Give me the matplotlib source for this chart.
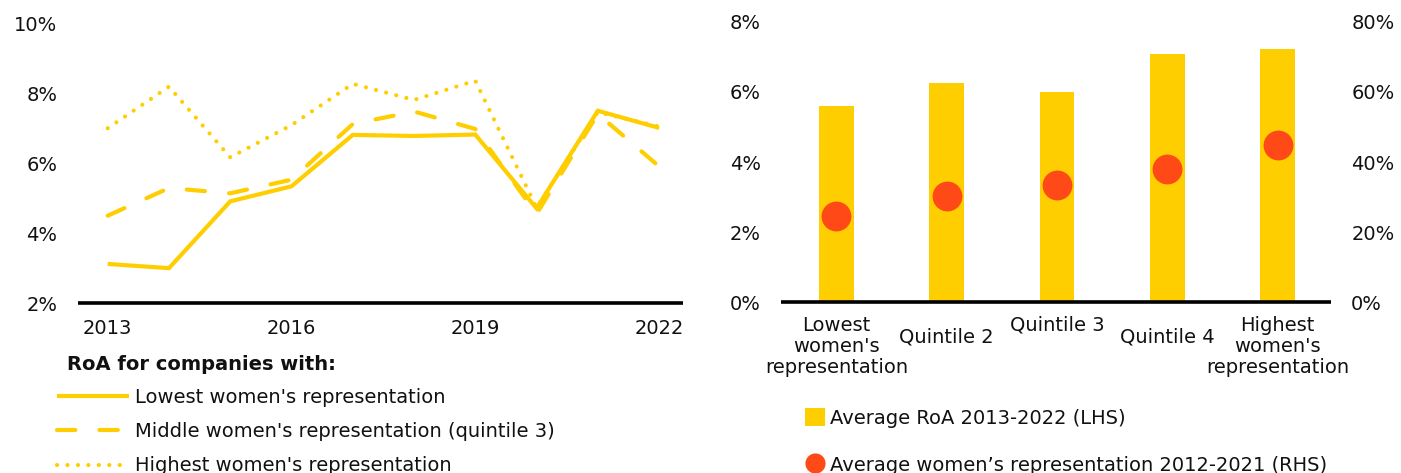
import matplotlib
matplotlib.use("Agg")
import matplotlib.pyplot as plt
from matplotlib.lines import Line2D
from matplotlib.patches import Patch
from matplotlib.ticker import FuncFormatter

# Left panel: return on assets by year
years = [2013, 2014, 2015, 2016, 2017, 2018, 2019, 2020, 2021, 2022]
roa_lowest = [3.13, 3.01, 4.92, 5.35, 6.82, 6.79, 6.83, 4.72, 7.51, 7.02]
roa_middle = [4.51, 5.30, 5.15, 5.54, 7.13, 7.49, 6.99, 4.56, 7.42, 5.92]
roa_highest = [7.01, 8.20, 6.18, 7.10, 8.28, 7.82, 8.37, 4.74, 7.47, 7.06]
year_ticks = [2013, 2016, 2019, 2022]
series_labels = ["Lowest women's representation",
                 "Middle women's representation (quintile 3)",
                 "Highest women's representation"]

# Right panel: averages by quintile of women's representation
quintiles = ["Lowest\nwomen's\nrepresentation", "Quintile 2", "Quintile 3",
             "Quintile 4", "Highest\nwomen's\nrepresentation"]
avg_roa = [5.61, 6.25, 5.99, 7.08, 7.24]
avg_women = [24.7, 30.2, 33.5, 37.9, 45.0]
bar_label = "Average RoA 2013-2022 (LHS)"
dot_label = "Average women\u2019s representation 2012-2021 (RHS)"

YELLOW = "#FFCE00"
ORANGE = "#FF4A17"
FS = 14

plt.rcParams["font.family"] = ["DejaVu Sans"]
plt.rcParams["font.size"] = FS
plt.rcParams["text.color"] = "#111111"

pct = FuncFormatter(lambda v, p: f"{v:.0f}%")

fig = plt.figure(figsize=(14.01, 4.73), dpi=100)


def style_axis(ax):
    for s in ["top", "left", "right"]:
        ax.spines[s].set_visible(False)
    ax.spines["bottom"].set_linewidth(2.6)
    ax.spines["bottom"].set_color("black")
    ax.spines["bottom"].set_capstyle("butt")
    ax.tick_params(length=0, labelsize=FS, colors="#111111")


# ---- left chart ----
ax1 = fig.add_axes([0.05567, 0.3584, 0.4318, 0.5915])
lw = 3.0
ax1.plot(years, roa_lowest, color=YELLOW, lw=lw, solid_capstyle="butt",
         solid_joinstyle="miter", label=series_labels[0])
ax1.plot(years, roa_middle, color=YELLOW, lw=lw, dashes=(4.4, 5.8),
         dash_capstyle="round", label=series_labels[1])
ax1.plot(years, roa_highest, color=YELLOW, lw=lw, dashes=(0.01, 2.5),
         dash_capstyle="round", label=series_labels[2])
ax1.set_xlim(2012.515, 2022.39)
ax1.set_ylim(2, 10)
ax1.set_yticks([2, 4, 6, 8, 10])
ax1.set_xticks(year_ticks)
ax1.yaxis.set_major_formatter(pct)
style_axis(ax1)
ax1.tick_params(axis="y", pad=15)
ax1.tick_params(axis="x", pad=11)

fig.text(67 / 1401, 1 - 364 / 473, "RoA for companies with:", fontsize=FS,
         fontweight="bold", va="center", ha="left")
h1, l1 = ax1.get_legend_handles_labels()
fig.legend(h1, l1, loc="upper left", bbox_to_anchor=(57 / 1401, 1 - 388 / 473),
           bbox_transform=fig.transFigure, frameon=False, borderpad=0,
           borderaxespad=0, handlelength=3.7, handletextpad=0.3,
           labelspacing=0.78, fontsize=FS)

# ---- right chart ----
ax2 = fig.add_axes([0.5575, 0.3615, 0.3926, 0.592])
ax3 = ax2.twinx()
xpos = list(range(len(quintiles)))
ax2.bar(xpos, avg_roa, width=0.314, color=YELLOW, zorder=1)
ax3.plot(xpos, avg_women, "o", color=ORANGE, markersize=21.5, markeredgewidth=0, zorder=3)
ax2.set_xlim(-0.502, 4.485)
ax2.set_ylim(0, 8)
ax3.set_ylim(0, 80)
ax2.set_yticks([0, 2, 4, 6, 8])
ax3.set_yticks([0, 20, 40, 60, 80])
ax2.yaxis.set_major_formatter(pct)
ax3.yaxis.set_major_formatter(pct)
style_axis(ax2)
style_axis(ax3)
ax3.spines["bottom"].set_visible(False)
ax2.tick_params(axis="y", pad=14.5)
ax3.tick_params(axis="y", pad=14.5)
ax2.set_xticks(xpos)
ax2.set_xticklabels([""] * len(xpos))
offsets = [10, 18, 10, 18, 10]
for x, lab, off in zip(xpos, quintiles, offsets):
    ax2.annotate(lab, xy=(x, 0), xycoords=("data", "axes fraction"),
                 xytext=(0, -off), textcoords="offset points", ha="center",
                 va="top", fontsize=FS, linespacing=1.13)

handles = [Patch(facecolor=YELLOW, edgecolor="none"),
           Line2D([], [], marker="o", color=ORANGE, linestyle="none",
                  markersize=14.5, markeredgewidth=0)]
fig.legend(handles, [bar_label, dot_label], loc="upper left",
           bbox_to_anchor=(805 / 1401, 1 - 408 / 473),
           bbox_transform=fig.transFigure, frameon=False, borderpad=0,
           borderaxespad=0, handlelength=1.03, handleheight=1.03,
           handletextpad=0.26, labelspacing=1.42, fontsize=FS)

fig.savefig("out.png", dpi=100, facecolor="white")
